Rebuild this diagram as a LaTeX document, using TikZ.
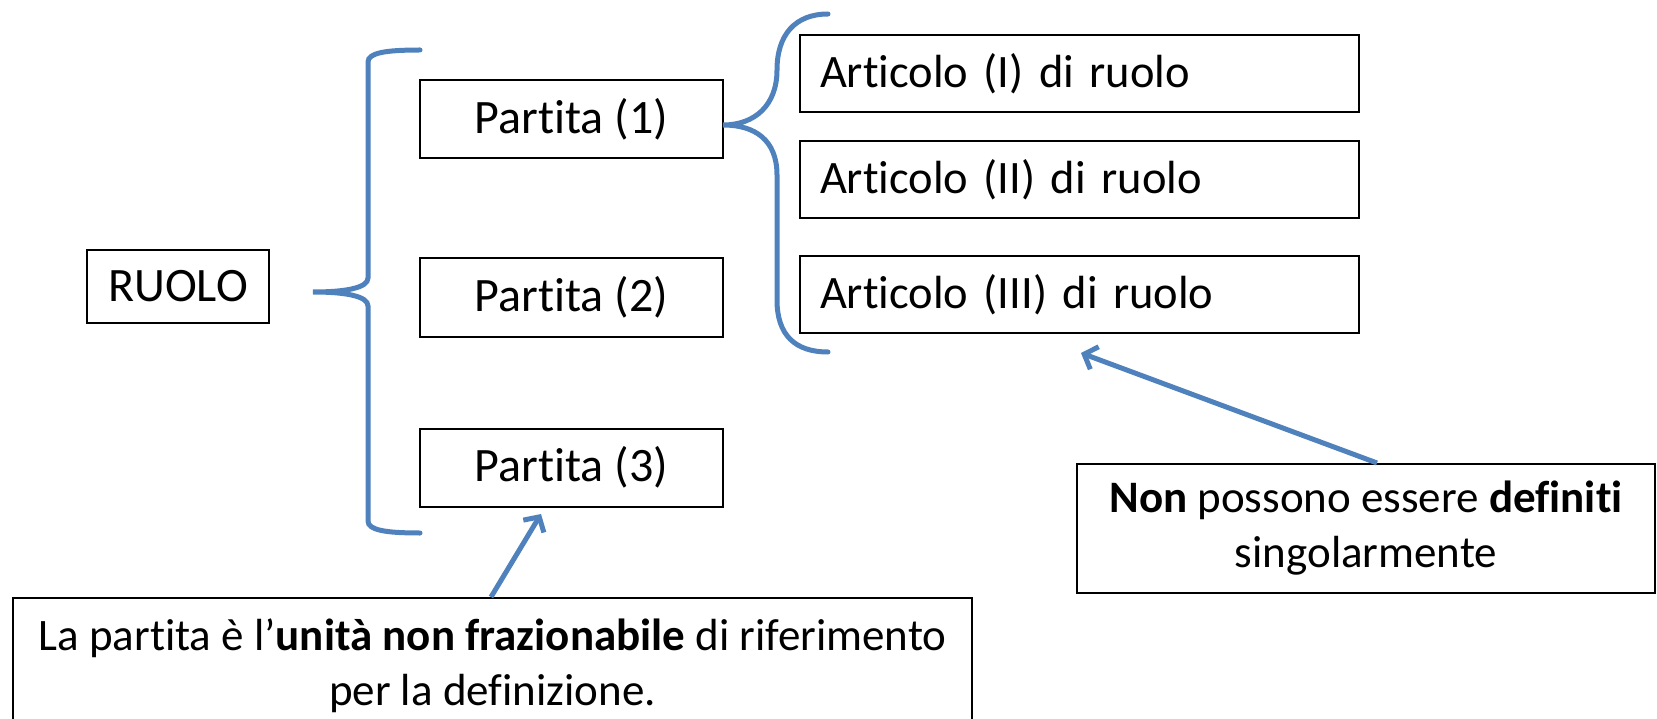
\documentclass[tikz,border=0pt]{standalone}
\usepackage{fontspec}
\setmainfont{Carlito}[Ligatures={NoCommon,NoContextual}]
\usetikzlibrary{arrows.meta}
\definecolor{obl}{RGB}{79,129,189}
\begin{document}
\begin{tikzpicture}[x=1pt,y=-1pt,
  box/.style={draw=black,line width=2pt,inner sep=0pt,font=\fontsize{48}{55}\selectfont},
  artbox/.style={box,anchor=west,minimum height=77,text width=519,align=left,inner xsep=20pt,font=\fontsize{46.5}{55}\selectfont},
  notebox/.style={box,align=center,font=\fontsize{45}{55}\selectfont},
  brace/.style={draw=obl,line width=5pt,line cap=round},
  callout/.style={draw=obl,line width=5pt,-{Straight Barb[length=11pt,width=24pt,line width=5pt]}}]
\useasboundingbox (0,0) rectangle (1657,719);
\node[box,minimum width=182,minimum height=73] (ruolo) at (178,286.5) {RUOLO};
\node[box,minimum width=303,minimum height=78] (p1) at (571.5,119) {Partita (1)};
\node[box,minimum width=303,minimum height=78] (p2) at (571.5,297.5) {Partita (2)};
\node[box,minimum width=303,minimum height=78] (p3) at (571.5,467.5) {Partita (3)};
\node[artbox] (a1) at (799,73.5) {Articolo (I) di ruolo};
\node[artbox] (a2) at (799,179.5) {Articolo (II) di ruolo};
\node[artbox] (a3) at (799,294.5) {Articolo (III) di ruolo};
\node[notebox,minimum width=578,minimum height=129] (n2) at (1366,528.5)
  {\textbf{Non} possono essere \textbf{definiti}\\singolarmente};
\node[notebox,anchor=north,minimum width=959,minimum height=136] (n1) at (492.5,597)
  {La partita è l’\textbf{unità non frazionabile} di riferimento\\per la definizione.};
% braces
\coordinate (b1tip) at (313,292);
\draw[brace] (420,50) .. controls (385,50) and (368,53) .. (368,62)
  -- (368,278) .. controls (368,288) and (345,292) .. (b1tip)
  .. controls (345,292) and (368,296) .. (368,306)
  -- (368,521) .. controls (368,530) and (385,533) .. (420,533);
\coordinate (b2tip) at (723,125);
\draw[brace] (828,14) .. controls (795,14) and (777,35) .. (777,70)
  .. controls (777,105) and (755,125) .. (b2tip)
  .. controls (755,125) and (777,140) .. (777,175)
  -- (777,300) .. controls (777,335) and (795,352) .. (828,352);
% callouts
\coordinate (t1) at (541,514);
\coordinate (t2) at (1081,353);
\draw[callout] (n1.north -| 491,0) -- (t1);
\draw[callout] (n2.north -| 1377,0) -- (t2);
\end{tikzpicture}
\end{document}
